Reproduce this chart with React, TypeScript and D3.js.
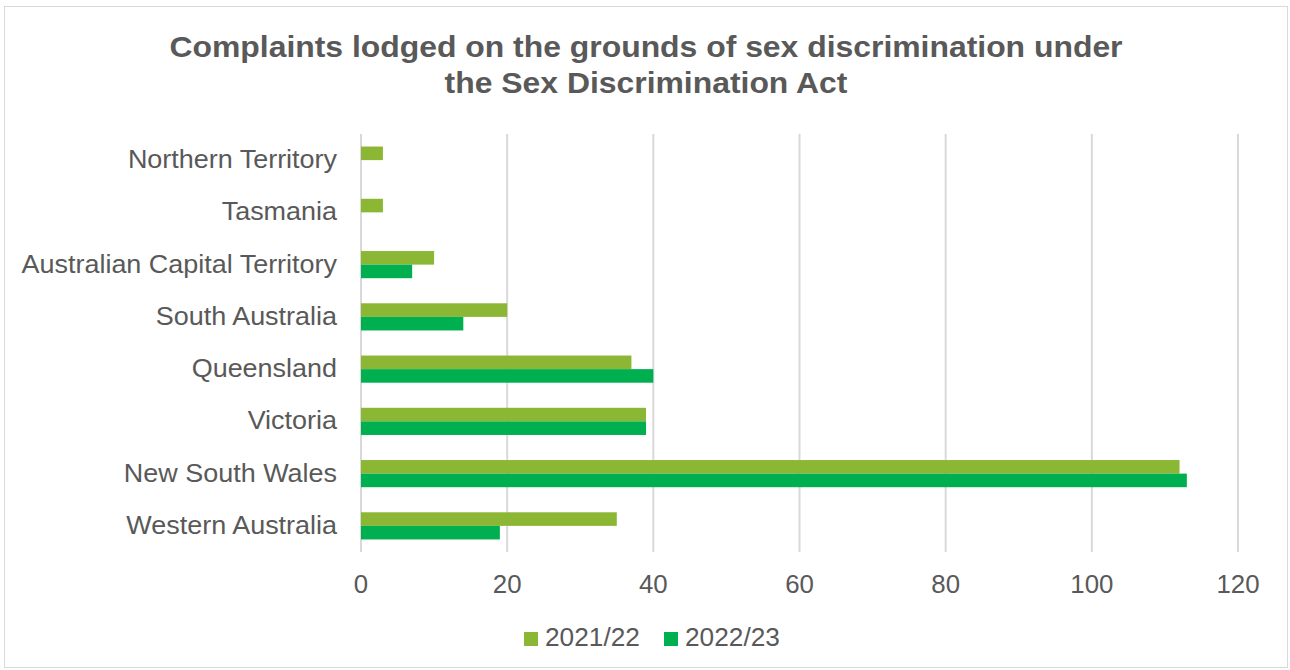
import React from "react";
import * as d3 from "d3";

const categories = [
  "Northern Territory",
  "Tasmania",
  "Australian Capital Territory",
  "South Australia",
  "Queensland",
  "Victoria",
  "New South Wales",
  "Western Australia",
];
const series2122 = [3, 3, 10, 20, 37, 39, 112, 35];
const series2223 = [0, 0, 7, 14, 40, 39, 113, 19];
const seriesNames = ["2021/22", "2022/23"];
const xTicks = [0, 20, 40, 60, 80, 100, 120];
const titleLines = [
  "Complaints lodged on the grounds of sex discrimination under",
  "the Sex Discrimination Act",
];

const W = 1290;
const H = 670;
const colors = ["#8CB734", "#00AF50"];
const textColor = "#595959";
const font = "'Liberation Sans', Arial, sans-serif";

function T({ x, y, sx, children, ...rest }: any) {
  return (
    <text transform={`translate(${x},${y}) scale(${sx},1)`} {...rest}>
      {children}
    </text>
  );
}

export default function App() {
  const x = d3.scaleLinear().domain([0, 120]).range([361, 1238]);
  const y = d3.scaleBand().domain(categories).range([134, 552]).paddingInner(0.48).paddingOuter(0.24);
  const inner = d3.scaleBand().domain(seriesNames).range([0, y.bandwidth()]);
  const data = [series2122, series2223];

  return (
    <svg
      width={W}
      height={H}
      style={{ position: "absolute", left: 0, top: 0, background: "#fff" }}
      fontFamily={font}
    >
      <rect x={4.5} y={6.5} width={1283} height={661} fill="#fff" stroke="#d9d9d9" strokeWidth={1} />
      {titleLines.map((t, i) => (
        <T
          key={i}
          x={646}
          y={57 + i * 36}
          sx={1.1}
          textAnchor="middle"
          fontSize={29}
          fontWeight="bold"
          fill={textColor}
        >
          {t}
        </T>
      ))}
      {xTicks.map((t) => (
        <line key={t} x1={x(t)} x2={x(t)} y1={134} y2={552} stroke="#d9d9d9" strokeWidth={2} />
      ))}
      {data.map((vals, si) =>
        vals.map((v, i) =>
          v > 0 ? (
            <rect
              key={`${si}-${i}`}
              x={x(0)}
              y={(y(categories[i]) as number) + (inner(seriesNames[si]) as number)}
              width={x(v) - x(0)}
              height={inner.bandwidth()}
              fill={colors[si]}
            />
          ) : null
        )
      )}
      {categories.map((c) => (
        <T
          key={c}
          x={337}
          y={(y(c) as number) + y.bandwidth() / 2 + 8}
          sx={1.078}
          textAnchor="end"
          fontSize={25}
          fill={textColor}
        >
          {c}
        </T>
      ))}
      {xTicks.map((t) => (
        <T key={t} x={x(t)} y={593} sx={1.034} textAnchor="middle" fontSize={25} fill={textColor}>
          {t}
        </T>
      ))}
      {seriesNames.map((s, i) => {
        const lx = 524 + i * 140;
        return (
          <g key={s}>
            <rect x={lx} y={632} width={14} height={14} fill={colors[i]} />
            <T x={lx + 21} y={646} sx={1.05} fontSize={25} fill={textColor}>
              {s}
            </T>
          </g>
        );
      })}
    </svg>
  );
}
